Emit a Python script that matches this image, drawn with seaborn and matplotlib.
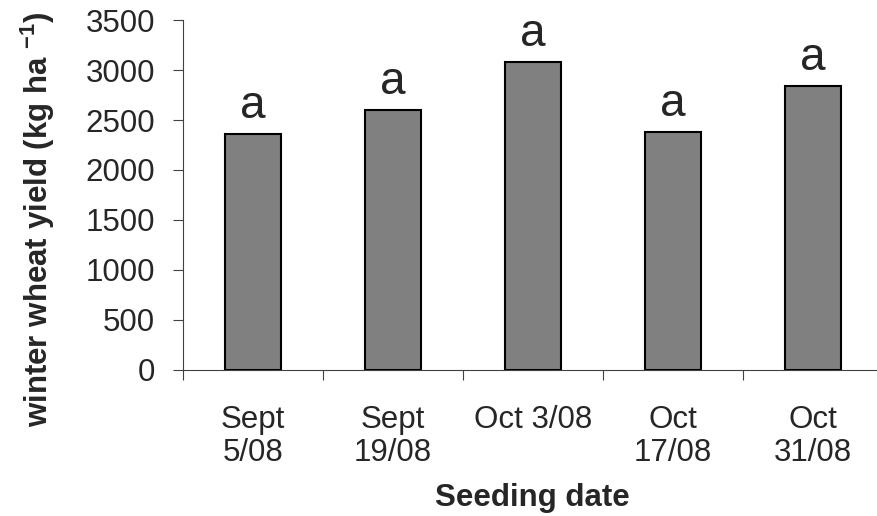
import numpy as np
import matplotlib
matplotlib.use("Agg")
import matplotlib.pyplot as plt
import seaborn as sns
import pandas as pd

# donnees
dates = ["Sept\n5/08", "Sept\n19/08", "Oct 3/08", "Oct\n17/08", "Oct\n31/08"]
yields = [2360, 2600, 3080, 2380, 2840]
letters = ["a", "a", "a", "a", "a"]

sns.set_style("ticks")
plt.rcParams["font.family"] = ["Liberation Sans", "DejaVu Sans"]
plt.rcParams["mathtext.fontset"] = "custom"
plt.rcParams["mathtext.rm"] = "Liberation Sans:bold"
plt.rcParams["mathtext.bf"] = "Liberation Sans:bold"

df = pd.DataFrame({"date": dates, "yield": yields})

fig = plt.figure(figsize=(8.77, 5.16), dpi=100)
ax = fig.add_axes([0.2083, 0.283, 0.7982, 0.6782])

sns.barplot(data=df, x="date", y="yield", color="#808080", saturation=1,
            width=0.4, edgecolor="black", linewidth=1.5, ax=ax)

# lettres de significativite
for i, (v, lab) in enumerate(zip(yields, letters)):
    ax.text(i, v + 160, lab, ha="center", va="baseline", fontsize=33)

ax.set_xlim(-0.5, 4.5)
ax.set_ylim(0, 3500)
ax.set_yticks(np.arange(0, 3501, 500))
ax.tick_params(axis="y", labelsize=22.5, length=7, width=0.8, pad=13, color="#404040")

# ticks entre les categories, etiquettes au centre
ax.set_xticks(np.arange(-0.5, 4.6, 1))
ax.set_xticklabels([])
ax.set_xticks(np.arange(5), minor=True)
ax.set_xticklabels(dates, minor=True, fontsize=22.5, linespacing=1.15)
ax.tick_params(axis="x", which="major", length=7, width=0.8, color="#404040")
ax.tick_params(axis="x", which="minor", length=0, pad=25)

sns.despine(ax=ax)
for s in ["left", "bottom"]:
    ax.spines[s].set_color("#404040")
    ax.spines[s].set_linewidth(0.8)

ax.set_xlabel("Seeding date", fontsize=22.5, fontweight="bold", labelpad=11)
ax.set_ylabel(r"winter wheat yield (kg ha $^{-1}$)", fontsize=22.5, fontweight="bold")
ax.yaxis.set_label_coords(-0.18, 0.431)

fig.savefig("out.png", dpi=100)
